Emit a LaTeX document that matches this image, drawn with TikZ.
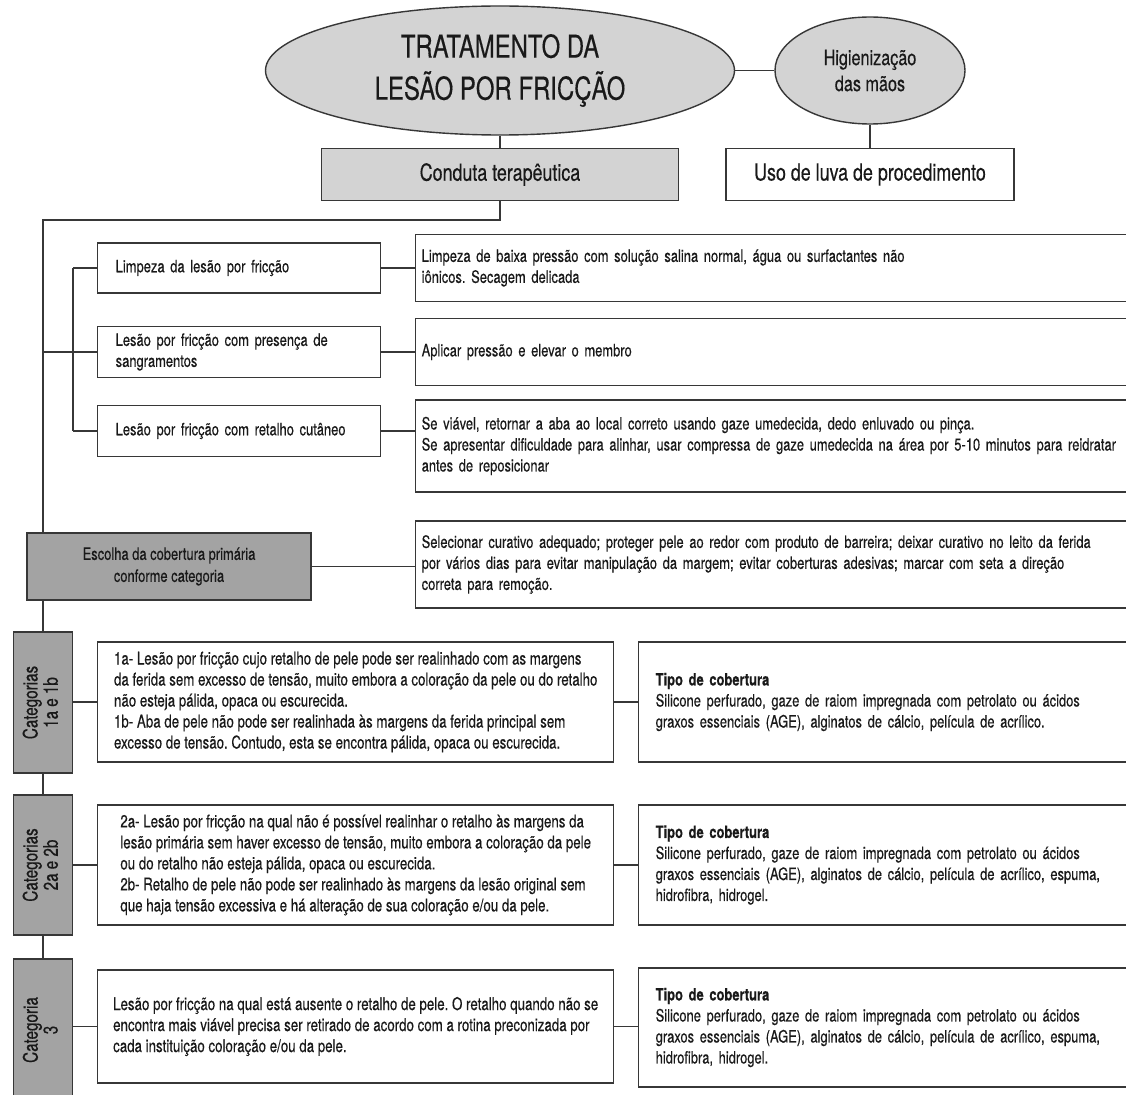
\documentclass[tikz,border=0pt]{standalone}
\usepackage{fontspec}
\setmainfont{TeX Gyre Heros}[FakeStretch=0.76,FakeBold=0.35]
\usepackage{graphicx}
\usetikzlibrary{shapes.geometric,positioning,calc}
\definecolor{lightfill}{RGB}{211,211,211}
\definecolor{darkfill}{RGB}{163,163,163}
\definecolor{edge}{RGB}{55,55,55}
\definecolor{ink}{RGB}{25,25,25}
\newcommand{\txtfont}{\fontsize{17}{21}\selectfont}
\frenchspacing

\begin{document}
\begin{tikzpicture}[
        x=1pt,y=-1pt,
        every node/.style={text=ink},
        bubble/.style={ellipse,draw=edge,fill=lightfill,line width=1.4pt,align=center,inner sep=0pt},
        head/.style={draw=edge,line width=1.4pt,minimum height=52pt,inner sep=0pt,font=\fontsize{23.5}{26}\selectfont},
        branch/.style={draw=edge,fill=white,line width=1.4pt,anchor=west,align=left,inner xsep=18pt,inner ysep=0pt,text width=247pt,font=\txtfont},
        note/.style={draw=edge,fill=white,line width=1.4pt,anchor=west,align=left,inner xsep=6pt,inner ysep=0pt,text width=760pt,font=\txtfont},
        desc/.style={draw=edge,fill=white,line width=1.4pt,anchor=west,align=left,inner sep=0pt,minimum width=516pt,font=\fontsize{17.5}{21}\selectfont},
        cover/.style={draw=edge,fill=white,line width=1.4pt,anchor=west,align=left,inner xsep=17pt,inner ysep=0pt,text width=520pt,minimum height=120pt,font=\txtfont},
        catbox/.style={draw=edge,fill=darkfill,line width=1.4pt,minimum width=59pt,inner sep=0pt,font=\fontsize{20}{19}\selectfont},
        link/.style={draw=edge,line width=1.3pt}
    ]
        \useasboundingbox (0,0) rectangle (1126,1094);
        \fill[white] (0,0) rectangle (1126,1094);

        % Title
        \node[bubble,minimum width=469pt,minimum height=129pt,font=\fontsize{31.5}{42}\selectfont] (title) at (500,70.5) {TRATAMENTO DA\\LESÃO POR FRICÇÃO};
        \node[bubble,minimum width=190pt,minimum height=107pt,font=\fontsize{21.3}{26}\selectfont] (hig) at (870,70.5) {Higienização\\das mãos};

        % Conduct
        \node[head,fill=lightfill,minimum width=357pt] (conduta) at (500,174.5) {Conduta terapêutica};
        \node[head,fill=white,minimum width=288pt] (luva) at (870,174.5) {Uso de luva de procedimento};

        % Branches
        \coordinate (trunk) at (43,220);
        \coordinate (fork) at (73,352);
        \node[branch,minimum height=50pt] (limp) at (97,268) {Limpeza da lesão por fricção};
        \node[branch,minimum height=51pt] (sang) at (97,352) {Lesão por fricção com presença de\\sangramentos};
        \node[branch,minimum height=51pt] (ret) at (97,431) {Lesão por fricção com retalho cutâneo};

        % Actions
        \node[note,minimum height=67pt] (limpR) at (415,268) {Limpeza de baixa pressão com solução salina normal, água ou surfactantes não\\iônicos. Secagem delicada};
        \node[note,minimum height=67pt] (aplR) at (415,352) {Aplicar pressão e elevar o membro};
        \node[note,minimum height=92pt] (retR) at (415,446) {Se viável, retornar a aba ao local correto usando gaze umedecida, dedo enluvado ou pinça.\\Se apresentar dificuldade para alinhar, usar compressa de gaze umedecida na área por 5-10 minutos para reidratar\\antes de reposicionar};

        % Dressing choice
        \node[catbox,minimum width=284pt,minimum height=67pt,align=center,font=\fontsize{17}{22}\selectfont] (escolha) at (169,566.5) {Escolha da cobertura primária\\conforme categoria};
        \node[note,minimum height=87pt] (sel) at (415,564.5) {Selecionar curativo adequado; proteger pele ao redor com produto de barreira; deixar curativo no leito da ferida\\por vários dias para evitar manipulação da margem; evitar coberturas adesivas; marcar com seta a direção\\correta para remoção.};

        % Categories
        \node[catbox,minimum height=141pt] (cat1) at (43,702.5) {\rotatebox{90}{\begin{tabular}{@{}c@{}}Categorias\\1a e 1b\end{tabular}}};
        \node[catbox,minimum height=140pt] (cat2) at (43,865) {\rotatebox{90}{\begin{tabular}{@{}c@{}}Categorias\\2a e 2b\end{tabular}}};
        \node[catbox,minimum height=142pt] (cat3) at (43,1030) {\rotatebox{90}{\begin{tabular}{@{}c@{}}Categoria\\3\end{tabular}}};

        \node[desc,minimum height=120pt] (t1) at (97,702) {1a- Lesão por fricção cujo retalho de pele pode ser realinhado com as margens\\da ferida sem excesso de tensão, muito embora a coloração da pele ou do retalho\\não esteja pálida, opaca ou escurecida.\\1b- Aba de pele não pode ser realinhada às margens da ferida principal sem\\excesso de tensão. Contudo, esta se encontra pálida, opaca ou escurecida.};
        \node[desc,minimum height=120pt] (t2) at (97,865) {2a- Lesão por fricção na qual não é possível realinhar o retalho às margens da\\lesão primária sem haver excesso de tensão, muito embora a coloração da pele\\ou do retalho não esteja pálida, opaca ou escurecida.\\2b- Retalho de pele não pode ser realinhado às margens da lesão original sem\\que haja tensão excessiva e há alteração de sua coloração e/ou da pele.};
        \node[desc,minimum height=113pt] (t3) at (97,1026.5) {Lesão por fricção na qual está ausente o retalho de pele. O retalho quando não se\\encontra mais viável precisa ser retirado de acordo com a rotina preconizada por\\cada instituição coloração e/ou da pele.};

        \node[cover] (p1) at (638,702) {\textbf{Tipo de cobertura}\\Silicone perfurado, gaze de raiom impregnada com petrolato ou ácidos\\graxos essenciais (AGE), alginatos de cálcio, película de acrílico.};
        \node[cover] (p2) at (638,865) {\textbf{Tipo de cobertura}\\Silicone perfurado, gaze de raiom impregnada com petrolato ou ácidos\\graxos essenciais (AGE), alginatos de cálcio, película de acrílico, espuma,\\hidrofibra, hidrogel.};
        \node[cover,minimum height=119pt] (p3) at (638,1027.5) {\textbf{Tipo de cobertura}\\Silicone perfurado, gaze de raiom impregnada com petrolato ou ácidos\\graxos essenciais (AGE), alginatos de cálcio, película de acrílico, espuma,\\hidrofibra, hidrogel.};

        % Connectors
        \draw[link] (title) -- (hig);
        \draw[link] (title) -- (conduta);
        \draw[link] (hig) -- (luva);
        \draw[link] (conduta.south) |- (trunk) -- (trunk |- escolha.north);
        \draw[link] (trunk |- sang) -- (sang.west);
        \draw[link] (fork |- limp) -- (fork |- ret);
        \draw[link] (fork |- limp) -- (limp.west);
        \draw[link] (fork |- ret) -- (ret.west);
        \draw[link] (limp.east) -- (limp.east -| limpR.west);
        \draw[link] (sang.east) -- (sang.east -| aplR.west);
        \draw[link] (ret.east) -- (ret.east -| retR.west);
        \draw[link] (escolha.east) -- (escolha.east -| sel.west);
        \draw[link] (cat1 |- escolha.south) -- (cat1.north);
        \draw[link] (cat1) -- (cat2);
        \draw[link] (cat2) -- (cat3);
        \draw[link] (t1.west -| cat1.east) -- (t1.west);
        \draw[link] (t2.west -| cat2.east) -- (t2.west);
        \draw[link] (t3.west -| cat3.east) -- (t3.west);
        \draw[link] (t1.east) -- (t1.east -| p1.west);
        \draw[link] (t2.east) -- (t2.east -| p2.west);
        \draw[link] (t3.east) -- (t3.east -| p3.west);
\end{tikzpicture}
\end{document}
